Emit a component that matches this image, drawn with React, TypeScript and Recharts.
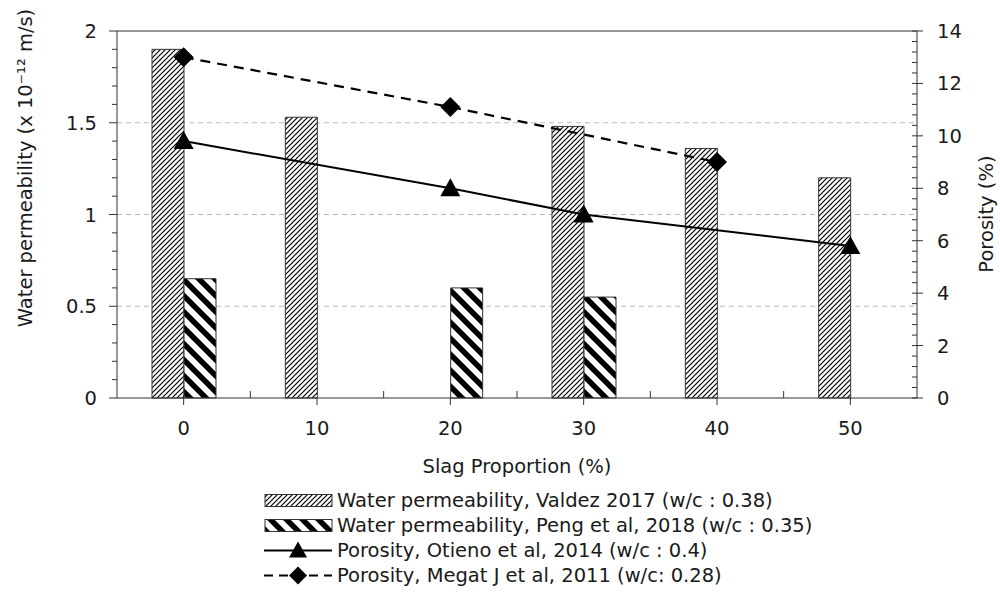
import React from 'react';
import { ComposedChart, Bar, Line, XAxis, YAxis, Legend, ReferenceLine } from 'recharts';

// ---- data ----
const categories = [0, 10, 20, 30, 40, 50];
const valdez = [1.9, 1.53, null, 1.48, 1.36, 1.2];
const peng = [0.65, null, 0.6, 0.55, null, null];
const otieno = [9.8, null, 8.0, 7.0, null, 5.8];
const megat = [13.0, null, 11.1, null, 9.0, null];

const leftTicks = [0, 0.1, 0.2, 0.3, 0.4, 0.5, 0.6, 0.7, 0.8, 0.9, 1, 1.1, 1.2, 1.3, 1.4, 1.5, 1.6, 1.7, 1.8, 1.9, 2];
const leftMajor = [0, 0.5, 1, 1.5, 2];
const rightTicks = [0, 0.4, 0.8, 1.2, 1.6, 2, 2.4, 2.8, 3.2, 3.6, 4, 4.4, 4.8, 5.2, 5.6, 6, 6.4, 6.8, 7.2, 7.6, 8, 8.4, 8.8, 9.2, 9.6, 10, 10.4, 10.8, 11.2, 11.6, 12, 12.4, 12.8, 13.2, 13.6, 14];
const rightMajor = [0, 2, 4, 6, 8, 10, 12, 14];
const gridValues = [0.5, 1, 1.5];

const seriesKeys = ['valdez', 'peng', 'otieno', 'megat'];
const seriesNames = [
  'Water permeability, Valdez 2017 (w/c : 0.38)',
  'Water permeability, Peng et al, 2018 (w/c : 0.35)',
  'Porosity, Otieno et al, 2014 (w/c : 0.4)',
  'Porosity, Megat J et al, 2011 (w/c: 0.28)',
];
const xLabel = 'Slag Proportion (%)';
const leftLabel = 'Water permeability (x 10⁻¹² m/s)';
const rightLabel = 'Porosity (%)';

const data = categories.map((c, i) => ({
  slag: String(c),
  valdez: valdez[i],
  peng: peng[i],
  otieno: otieno[i],
  megat: megat[i],
}));

// ---- layout ----
const W = 1000;
const H = 605;
const LEFT_W = 117;
const RIGHT_W = 83;
const PLOT_W = W - LEFT_W - RIGHT_W;
const FONT = "'DejaVu Sans', sans-serif";
const TXT = '#1a1a1a';
const AX = '#333';
const FS = 19.5;

const LeftTick = (props: any) => {
  const { x, y, payload } = props;
  const major = leftMajor.includes(payload.value);
  return (
    <g>
      <line x1={x - (major ? 8 : 5)} x2={x} y1={y} y2={y} stroke={AX} strokeWidth={1} />
      {major && (
        <text x={x - 20} y={y + 7} textAnchor="end" fontSize={FS} fill={TXT} fontFamily={FONT}>
          {String(payload.value)}
        </text>
      )}
    </g>
  );
};

const RightTick = (props: any) => {
  const { x, y, payload } = props;
  const major = rightMajor.includes(payload.value);
  return (
    <g>
      <line x1={x - 5} x2={x + (major ? 6 : 0)} y1={y} y2={y} stroke={AX} strokeWidth={1} />
      {major && (
        <text x={x + 20} y={y + 7} textAnchor="start" fontSize={FS} fill={TXT} fontFamily={FONT}>
          {String(payload.value)}
        </text>
      )}
    </g>
  );
};

const XTick = (props: any) => {
  const { x, y, payload, index } = props;
  const band = PLOT_W / categories.length;
  return (
    <g>
      <line x1={x} x2={x} y1={y} y2={y + 7} stroke={AX} strokeWidth={1} />
      {index < categories.length - 1 && (
        <line x1={x + band / 2} x2={x + band / 2} y1={y - 7} y2={y} stroke={AX} strokeWidth={1} />
      )}
      <text x={x} y={y + 37} textAnchor="middle" fontSize={FS} fill={TXT} fontFamily={FONT}>
        {payload.value}
      </text>
    </g>
  );
};

const Triangle = (props: any) => {
  const { cx, cy } = props;
  if (cx == null || cy == null || props.value == null) return <g />;
  return <polygon points={`${cx},${cy - 10} ${cx - 10},${cy + 8} ${cx + 10},${cy + 8}`} fill="#000" />;
};

const Diamond = (props: any) => {
  const { cx, cy } = props;
  if (cx == null || cy == null || props.value == null) return <g />;
  return <polygon points={`${cx},${cy - 10} ${cx + 10},${cy} ${cx},${cy + 10} ${cx - 10},${cy}`} fill="#000" />;
};

const legendIcon = (key: string) => {
  if (key === 'valdez')
    return <rect x={1} y={6.5} width={67} height={12} fill="url(#patValdez)" stroke={AX} strokeWidth={1} />;
  if (key === 'peng')
    return <rect x={1} y={6.5} width={67} height={12} fill="url(#patPeng)" stroke={AX} strokeWidth={1} />;
  if (key === 'otieno')
    return (
      <g>
        <line x1={0} x2={68} y1={12.5} y2={12.5} stroke="#000" strokeWidth={2} />
        <polygon points="34,3.5 25,19.5 43,19.5" fill="#000" />
      </g>
    );
  return (
    <g>
      <line x1={0} x2={68} y1={12.5} y2={12.5} stroke="#000" strokeWidth={2.2} strokeDasharray="9 6" />
      <polygon points="34,3.5 43,12.5 34,21.5 25,12.5" fill="#000" />
    </g>
  );
};

const renderLegend = (props: any) => {
  const payload = [...(props.payload || [])].sort(
    (a: any, b: any) => seriesKeys.indexOf(a.dataKey) - seriesKeys.indexOf(b.dataKey)
  );
  return (
    <div style={{ display: 'flex', flexDirection: 'column' }}>
      {payload.map((entry: any) => (
        <div key={entry.dataKey} style={{ display: 'flex', alignItems: 'center', height: 25 }}>
          <svg width={70} height={25} style={{ display: 'block' }}>
            {legendIcon(entry.dataKey)}
          </svg>
          <span style={{ marginLeft: 3, fontSize: FS, color: TXT, fontFamily: FONT, whiteSpace: 'nowrap', lineHeight: '23px' }}>
            {entry.value}
          </span>
        </div>
      ))}
    </div>
  );
};

const XLabel = (props: any) => {
  const vb = props.viewBox || {};
  return (
    <text x={vb.x + vb.width / 2} y={473} textAnchor="middle" fontSize={FS} fill={TXT} fontFamily={FONT}>
      {xLabel}
    </text>
  );
};

const LeftLabel = () => (
  <text x={32} y={168} transform="rotate(-90, 32, 168)" textAnchor="middle" fontSize={FS} fill={TXT} fontFamily={FONT}>
    {leftLabel}
  </text>
);

const RightLabel = () => (
  <text x={986} y={214} transform="rotate(-90, 986, 214)" textAnchor="middle" fontSize={FS} fill={TXT} fontFamily={FONT} dominantBaseline="central">
    {rightLabel}
  </text>
);

export default function App() {
  return (
    <div style={{ position: 'absolute', left: 0, top: 0, width: W, height: H, background: '#fff', fontFamily: FONT }}>
      <ComposedChart
        width={W}
        height={H}
        data={data}
        margin={{ top: 31, right: 0, bottom: 127, left: 0 }}
        barSize={32}
        barGap={0}
      >
        <defs>
          <pattern id="patValdez" patternUnits="userSpaceOnUse" width={5} height={5}>
            <rect width={5} height={5} fill="#fff" />
            <path d="M-1,1 L1,-1 M0,5 L5,0 M4,6 L6,4" stroke="#000" strokeWidth={1.2} />
          </pattern>
          <pattern id="patPeng" patternUnits="userSpaceOnUse" width={16} height={16}>
            <rect width={16} height={16} fill="#fff" />
            <path d="M-4,12 L4,20 M0,0 L16,16 M12,-4 L20,4" stroke="#000" strokeWidth={5.5} />
          </pattern>
        </defs>
        {gridValues.map((v) => (
          <ReferenceLine
            key={`g${v}`}
            yAxisId="left"
            y={v}
            stroke="#bbbbbb"
            strokeWidth={1}
            strokeDasharray="5 4"
            {...({ zIndex: -100 } as any)}
          />
        ))}
        <XAxis
          dataKey="slag"
          type="category"
          height={80}
          axisLine={{ stroke: AX, strokeWidth: 1 }}
          tickLine={false}
          tickSize={0}
          tickMargin={0}
          interval={0}
          tick={<XTick />}
          label={<XLabel />}
        />
        <YAxis
          yAxisId="left"
          width={LEFT_W}
          domain={[0, 2]}
          ticks={leftTicks}
          interval={0}
          tickLine={false}
          tickSize={0}
          tickMargin={0}
          axisLine={{ stroke: AX, strokeWidth: 1 }}
          tick={<LeftTick />}
          label={<LeftLabel />}
        />
        <YAxis
          yAxisId="right"
          orientation="right"
          width={RIGHT_W}
          domain={[0, 14]}
          ticks={rightTicks}
          interval={0}
          tickLine={false}
          tickSize={0}
          tickMargin={0}
          axisLine={{ stroke: AX, strokeWidth: 1 }}
          tick={<RightTick />}
          label={<RightLabel />}
        />
        <ReferenceLine yAxisId="left" y={2} stroke={AX} strokeWidth={1} />
        <Bar
          yAxisId="left"
          dataKey="valdez"
          name={seriesNames[0]}
          fill="url(#patValdez)"
          stroke={AX}
          strokeWidth={1}
          isAnimationActive={false}
        />
        <Bar
          yAxisId="left"
          dataKey="peng"
          name={seriesNames[1]}
          fill="url(#patPeng)"
          stroke={AX}
          strokeWidth={1}
          isAnimationActive={false}
        />
        <Line
          yAxisId="right"
          dataKey="otieno"
          name={seriesNames[2]}
          stroke="#000"
          strokeWidth={2}
          connectNulls
          dot={<Triangle />}
          activeDot={false}
          isAnimationActive={false}
        />
        <Line
          yAxisId="right"
          dataKey="megat"
          name={seriesNames[3]}
          stroke="#000"
          strokeWidth={2.2}
          strokeDasharray="10 7"
          connectNulls
          dot={<Diamond />}
          activeDot={false}
          isAnimationActive={false}
        />
        <Legend
          layout="horizontal"
          verticalAlign="middle"
          align="center"
          content={renderLegend}
          wrapperStyle={{ left: 264, top: 488, width: 650, height: 100 }}
        />
      </ComposedChart>
    </div>
  );
}
